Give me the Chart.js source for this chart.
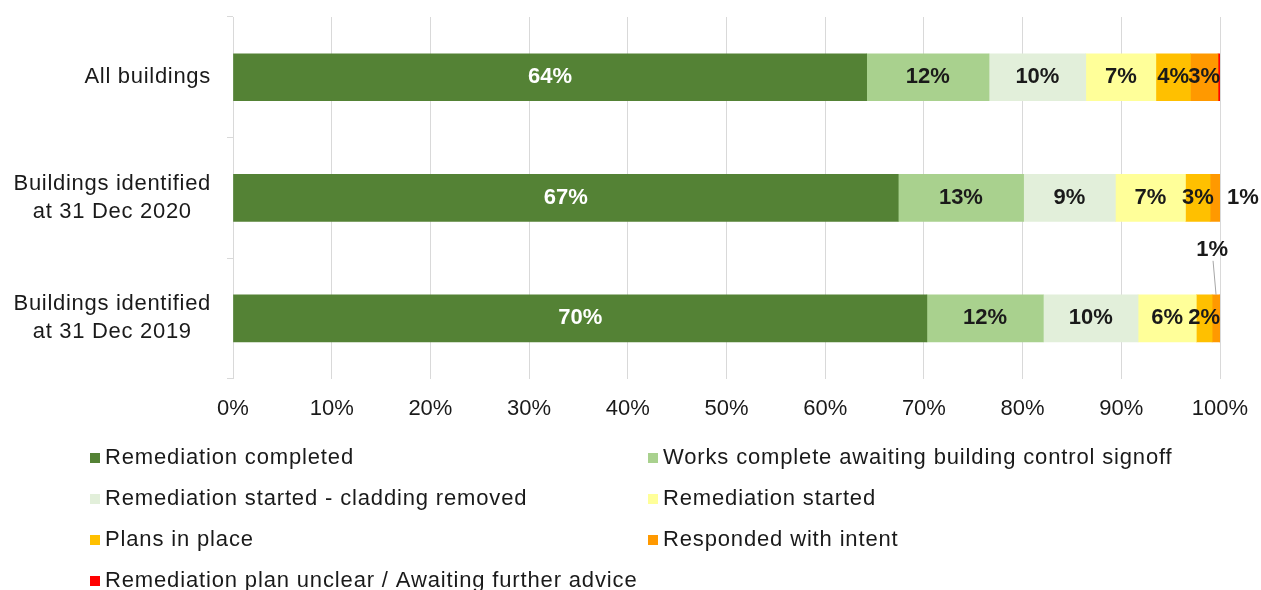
<!DOCTYPE html>
<html>
<head>
<meta charset="utf-8">
<script src="https://cdn.jsdelivr.net/npm/chart.js@4.4.1/dist/chart.umd.min.js"></script>
<style>
  html, body { margin: 0; padding: 0; background: #fff; }
  #wrap { width: 1261px; height: 590px; position: relative; }
</style>
</head>
<body>
<div id="wrap"><canvas id="chart"></canvas></div>
<script>
// categories (multi-line labels)
const categories = [
  ['All buildings'],
  ['Buildings identified', 'at 31 Dec 2020'],
  ['Buildings identified', 'at 31 Dec 2019']
];

// share of buildings in each status, %
const remediationCompleted = [64.2, 67.4, 70.3];
const worksComplete = [12.4, 12.7, 11.8];
const claddingRemoved = [9.8, 9.3, 9.6];
const remediationStarted = [7.1, 7.1, 5.9];
const plansInPlace = [3.5, 2.5, 1.6];
const respondedWithIntent = [2.8, 1.1, 0.8];
const planUnclear = [0.2, 0, 0];

const seriesNames = [
  'Remediation completed',
  'Works complete awaiting building control signoff',
  'Remediation started - cladding removed',
  'Remediation started',
  'Plans in place',
  'Responded with intent',
  'Remediation plan unclear / Awaiting further advice'
];
const seriesColors = ['#548235', '#a9d18e', '#e2efda', '#ffff99', '#ffc000', '#ff9900', '#ff0000'];
const seriesValues = [remediationCompleted, worksComplete, claddingRemoved, remediationStarted,
  plansInPlace, respondedWithIntent, planUnclear];

const xTicks = [0, 10, 20, 30, 40, 50, 60, 70, 80, 90, 100];

const FONT = 'Liberation Sans, Arial, sans-serif';
const TEXT = '#1a1a1a';

// labels that don't fit inside their segment
const outsideLabels = { '5-1': 'right', '5-2': 'above' };
const hiddenLabels = ['6'];

const categoryLabels = {
  id: 'categoryLabels',
  afterDraw(chart) {
    const ctx = chart.ctx;
    const y = chart.scales.y;
    ctx.save();
    ctx.font = '22px ' + FONT;
    ctx.letterSpacing = '0.7px';
    ctx.fillStyle = TEXT;
    ctx.textAlign = 'center';
    ctx.textBaseline = 'middle';
    const right = y.left - 16;
    const lh = 28;
    categories.forEach((lines, i) => {
      const cy = y.getPixelForValue(i);
      const w = Math.max(...lines.map(l => ctx.measureText(l).width));
      const cx = right - w / 2;
      lines.forEach((l, k) => {
        ctx.fillText(l, cx, cy + (k - (lines.length - 1) / 2) * lh);
      });
    });
    ctx.restore();
  }
};

const valueLabels = {
  id: 'valueLabels',
  afterDatasetsDraw(chart) {
    const ctx = chart.ctx;
    ctx.save();
    ctx.font = 'bold 22px ' + FONT;
    ctx.textAlign = 'center';
    ctx.textBaseline = 'middle';
    chart.data.datasets.forEach((ds, di) => {
      if (hiddenLabels.includes(String(di))) return;
      const meta = chart.getDatasetMeta(di);
      meta.data.forEach((bar, i) => {
        const v = ds.data[i];
        if (!v) return;
        const txt = Math.round(v) + '%';
        const place = outsideLabels[di + '-' + i];
        const cx = (bar.x + bar.base) / 2;
        ctx.fillStyle = di === 0 ? '#ffffff' : TEXT;
        if (place === 'right') {
          ctx.fillText(txt, bar.x + 22, bar.y);
        } else if (place === 'above') {
          const top = bar.y - bar.height / 2;
          ctx.strokeStyle = '#a6a6a6';
          ctx.lineWidth = 1;
          ctx.beginPath();
          ctx.moveTo(cx - 3, top - 34);
          ctx.lineTo(cx, top);
          ctx.stroke();
          ctx.fillText(txt, cx - 4, top - 45);
        } else {
          ctx.fillText(txt, cx, bar.y);
        }
      });
    });
    ctx.restore();
  }
};

const bottomLegend = {
  id: 'bottomLegend',
  afterDraw(chart) {
    const ctx = chart.ctx;
    const xs = chart.scales.x;
    const cols = [90, 648];
    const rowH = 41;
    const startY = xs.bottom + 19;
    ctx.save();
    ctx.font = '22px ' + FONT;
    ctx.letterSpacing = '0.85px';
    ctx.textBaseline = 'middle';
    ctx.textAlign = 'left';
    chart.data.datasets.forEach((ds, i) => {
      const x = cols[i % 2];
      const y = startY + Math.floor(i / 2) * rowH;
      ctx.fillStyle = ds.backgroundColor;
      ctx.fillRect(x, y - 5, 10, 10);
      ctx.fillStyle = TEXT;
      ctx.fillText(ds.label, x + 15, y);
    });
    ctx.restore();
  }
};

new Chart(document.getElementById('chart'), {
  type: 'bar',
  data: {
    labels: categories.map(c => c.join(' ')),
    datasets: seriesNames.map((name, i) => ({
      label: name,
      data: seriesValues[i],
      backgroundColor: seriesColors[i],
      borderWidth: 0,
      barThickness: 47
    }))
  },
  options: {
    indexAxis: 'y',
    responsive: true,
    maintainAspectRatio: false,
    animation: false,
    layout: { padding: { left: 227, top: 17, right: 41, bottom: 151 } },
    scales: {
      x: {
        stacked: true,
        min: 0,
        max: 100,
        afterBuildTicks(scale) { scale.ticks = xTicks.map(v => ({ value: v })); },
        afterFit(scale) { scale.paddingLeft = 0; scale.paddingRight = 0; },
        ticks: {
          callback: v => v + '%',
          color: TEXT,
          font: { family: FONT, size: 22 },
          padding: 17,
          maxRotation: 0
        },
        grid: { color: '#d9d9d9', lineWidth: 1, drawTicks: false },
        border: { display: false }
      },
      y: {
        stacked: true,
        ticks: { display: false },
        grid: { drawOnChartArea: false, drawTicks: true, tickLength: 6, color: '#d9d9d9' },
        border: { display: true, color: '#d9d9d9', width: 1 }
      }
    },
    plugins: {
      legend: { display: false },
      tooltip: { enabled: false }
    }
  },
  plugins: [categoryLabels, valueLabels, bottomLegend]
});
</script>
</body>
</html>
